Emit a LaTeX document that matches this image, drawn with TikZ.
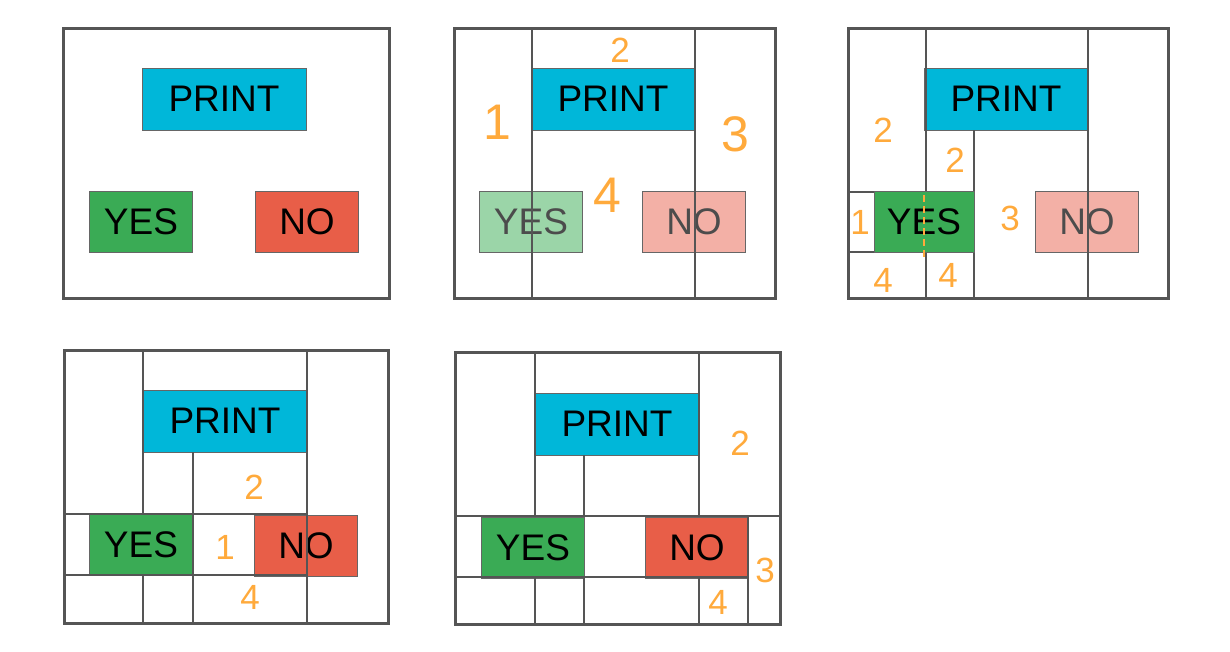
\documentclass[tikz,border=0pt]{standalone}
\usepackage{fontspec}
\setmainfont{Liberation Sans}
\definecolor{printblue}{RGB}{0,183,217}
\definecolor{yesgreen}{RGB}{58,171,85}
\definecolor{nored}{RGB}{232,94,72}
\definecolor{yesfade}{RGB}{155,213,168}
\definecolor{nofade}{RGB}{243,176,166}
\definecolor{numorange}{RGB}{255,170,60}
\definecolor{framegray}{RGB}{85,85,85}

\begin{document}
\begin{tikzpicture}[
    x=1pt, y=-1pt,
    panel/.style={draw=framegray, line width=3pt},
    cut/.style={draw=framegray, line width=2pt},
    btn/.style={draw=gray!80!black, line width=0.8pt, minimum width=103pt, minimum height=61pt, inner sep=0pt, font=\fontsize{37}{40}\selectfont},
    printbtn/.style={btn, fill=printblue, minimum width=164pt, minimum height=62pt},
    yesbtn/.style={btn, fill=yesgreen},
    nobtn/.style={btn, fill=nored},
    yesfaded/.style={btn, fill=yesfade, text=black!70},
    nofaded/.style={btn, fill=nofade, text=black!70},
    num/.style={text=numorange, font=\fontsize{35}{38}\selectfont},
    bignum/.style={num, font=\fontsize{50}{54}\selectfont}
  ]
    \useasboundingbox[fill=white] (0,0) rectangle (1230,651);

    % panel 1: the dialog
    \node[printbtn] (p1) at (224,99) {PRINT};
    \node[yesbtn] (y1) at (141,222) {YES};
    \node[nobtn] (n1) at (307,222) {NO};
    \draw[panel] (63,28) rectangle (389,298);

    % panel 2: first split
    \node[printbtn] (p2) at (613,99) {PRINT};
    \node[yesfaded] (y2) at (531,222) {YES};
    \node[nofaded] (n2) at (694,222) {NO};
    \draw[cut] (532,28) -- (532,298);
    \draw[cut] (695,28) -- (695,298);
    \draw[panel] (454,28) rectangle (775,298);
    \node[bignum] (a1) at (497,122) {1};
    \node[num] (a2) at (620,50) {2};
    \node[bignum] (a3) at (735,134) {3};
    \node[bignum] (a4) at (607,195) {4};

    % panel 3: left column
    \node[printbtn] (p3) at (1006,99) {PRINT};
    \node[nofaded] (n3) at (1087,222) {NO};
    \draw[cut] (926,28) -- (926,192);
    \draw[cut] (926,252) -- (926,298);
    \draw[cut] (1088,28) -- (1088,298);
    \draw[cut] (974,130) -- (974,298);
    \draw[cut] (848,192) -- (974,192);
    \draw[cut] (848,252) -- (974,252);
    \node[yesbtn, minimum width=100pt] (y3) at (924,222) {YES};
    \draw[numorange, line width=2pt, dash pattern=on 7pt off 4pt] (924,195) -- (924,257);
    \draw[panel] (848,28) rectangle (1168,298);
    \node[num] (b1) at (883,130) {2};
    \node[num] (b2) at (955,160) {2};
    \node[num] (b3) at (860,222) {1};
    \node[num] (b4) at (1010,218) {3};
    \node[num] (b5) at (883,280) {4};
    \node[num] (b6) at (948,275) {4};

    % panel 4: middle column
    \node[printbtn] (p4) at (225,421) {PRINT};
    \node[yesbtn] (y4) at (141,545) {YES};
    \node[nobtn] (n4) at (306,546) {NO};
    \draw[cut] (143,350) -- (143,514);
    \draw[cut] (143,575) -- (143,623);
    \draw[cut] (307,350) -- (307,623);
    \draw[cut] (193,452) -- (193,623);
    \draw[cut] (64,514) -- (307,514);
    \draw[cut] (64,575) -- (307,575);
    \draw[panel] (64,350) rectangle (388,623);
    \node[num] (c1) at (254,487) {2};
    \node[num] (c2) at (225,547) {1};
    \node[num] (c3) at (250,597) {4};

    % panel 5: right column
    \node[printbtn] (p5) at (617,424) {PRINT};
    \node[yesbtn] (y5) at (533,548) {YES};
    \node[nobtn] (n5) at (697,548) {NO};
    \draw[cut] (535,352) -- (535,516);
    \draw[cut] (535,577) -- (535,624);
    \draw[cut] (699,352) -- (699,516);
    \draw[cut] (584,455) -- (584,516);
    \draw[cut] (584,577) -- (584,624);
    \draw[cut] (699,577) -- (699,624);
    \draw[cut] (748,516) -- (748,624);
    \draw[cut] (455,516) -- (780,516);
    \draw[cut] (455,577) -- (748,577);
    \draw[panel] (455,352) rectangle (780,624);
    \node[num] (d1) at (740,443) {2};
    \node[num] (d2) at (765,570) {3};
    \node[num] (d3) at (718,602) {4};
  \end{tikzpicture}
\end{document}
